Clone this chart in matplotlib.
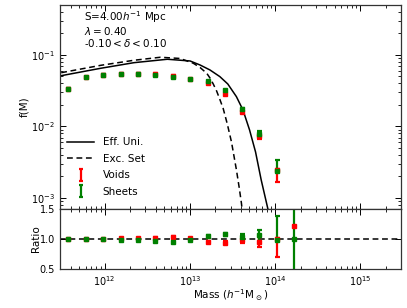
import numpy as np
import matplotlib
matplotlib.use("Agg")
import matplotlib.pyplot as plt
from matplotlib.ticker import LogLocator, NullFormatter, FixedLocator
from matplotlib.lines import Line2D
from matplotlib.path import Path

# ---- data ----
mass = [3.7e11, 6.1e11, 9.7e11, 1.56e12, 2.48e12, 3.95e12, 6.28e12,
        1.01e13, 1.62e13, 2.59e13, 4.13e13, 6.56e13, 1.045e14, 1.66e14]

void_f = [0.0334, 0.0488, 0.053, 0.055, 0.055, 0.0545, 0.051,
          0.046, 0.040, 0.028, 0.0161, 0.0074, 0.00245, 4e-4]
void_lo = [0.0007, 0.0008, 0.0008, 0.0009, 0.0009, 0.0009, 0.0009,
           0.0008, 0.0008, 0.0007, 0.0005, 0.0008, 0.0008, 1e-5]
void_hi = [0.0007, 0.0008, 0.0008, 0.0009, 0.0009, 0.0009, 0.0009,
           0.0008, 0.0008, 0.0007, 0.0005, 0.0002, 0.0001, 1e-5]

sheet_f = [0.0334, 0.0488, 0.053, 0.054, 0.055, 0.053, 0.049,
           0.046, 0.043, 0.032, 0.0174, 0.0079, 0.0024, 4e-4]
sheet_lo = [0.0007, 0.0008, 0.0008, 0.0009, 0.0009, 0.0009, 0.0009,
            0.0008, 0.0008, 0.0007, 0.0005, 0.0002, 0.0001, 1e-5]
sheet_hi = [0.0007, 0.0008, 0.0008, 0.0009, 0.0009, 0.0009, 0.0009,
            0.0008, 0.0008, 0.0008, 0.0006, 0.0008, 0.0010, 1e-5]

void_r = [1.0, 1.0, 1.003, 1.017, 1.01, 1.02, 1.03,
          1.01, 0.955, 0.94, 0.99, 0.95, 1.0, 1.22]
void_r_lo = [0.005, 0.005, 0.005, 0.008, 0.008, 0.01, 0.015,
             0.01, 0.02, 0.03, 0.06, 0.08, 0.305, 0.0]
void_r_hi = [0.005, 0.005, 0.005, 0.008, 0.008, 0.01, 0.015,
             0.01, 0.02, 0.03, 0.06, 0.08, 0.02, 0.0]

sheet_r = [1.0, 1.0, 1.0, 0.983, 0.99, 0.97, 0.955,
           0.99, 1.055, 1.078, 1.03, 1.06, 0.98, 1.0]
sheet_r_lo = [0.005, 0.005, 0.005, 0.008, 0.008, 0.01, 0.015,
              0.01, 0.02, 0.03, 0.06, 0.09, 0.01, 0.9]
sheet_r_hi = [0.005, 0.005, 0.005, 0.008, 0.008, 0.01, 0.015,
              0.01, 0.02, 0.03, 0.06, 0.09, 0.41, 0.9]

# theory curves
eu_mass = [3.1e11, 9.06e11, 2.21e12, 5.45e12, 1.007e13, 1.318e13, 1.722e13,
           2.249e13, 2.787e13, 3.52e13, 4.2e13, 5.02e13, 5.90e13, 6.87e13,
           8.2e13, 9.06e13]
eu_f = [0.0513, 0.0652, 0.078, 0.0871, 0.0824, 0.0724, 0.0617,
        0.0498, 0.0393, 0.0261, 0.0170, 0.00893, 0.00440, 0.00179,
        0.000718, 0.000419]

es_mass = [3.1e11, 9.06e11, 2.21e12, 4.52e12, 7.71e12, 1.10e13, 1.318e13,
           1.578e13, 1.722e13, 1.881e13, 2.06e13, 2.25e13, 2.46e13, 2.75e13,
           3.08e13, 3.52e13, 3.80e13, 4.03e13, 4.17e13]
es_f = [0.0565, 0.0717, 0.0843, 0.0929, 0.0893, 0.0765, 0.0668,
        0.0555, 0.0477, 0.0393, 0.0314, 0.0239, 0.0179, 0.01084,
        0.00607, 0.00247, 0.00138, 0.000843, 0.000578]

labels = ["Eff. Uni.", "Exc. Set", "Voids", "Sheets"]
void_color = "#ff0000"
sheet_color = "#008000"

# ---- figure ----
fig = plt.figure(figsize=(4.07, 3.08), dpi=100)
L, R = 60 / 407, 401 / 407
ax = fig.add_axes([L, 1 - 209 / 308, R - L, (209 - 5) / 308])
axr = fig.add_axes([L, 1 - 269 / 308, R - L, 60 / 308], sharex=ax)

fs = 7.5
dash = (0, (3.8, 2.4))

h1, = ax.plot(eu_mass, eu_f, "-", color="k", lw=1.1)
h2, = ax.plot(es_mass, es_f, color="k", lw=1.1, ls=dash)
ebkw = dict(fmt="s", ms=2.8, capsize=1.8, elinewidth=1.6, capthick=1.6)
ax.errorbar(mass, void_f, yerr=[void_lo, void_hi], color=void_color,
            mec=void_color, **ebkw)
ax.errorbar(mass, sheet_f, yerr=[sheet_lo, sheet_hi], color=sheet_color,
            mec=sheet_color, **ebkw)

# legend proxies: an "I"-shaped errorbar glyph
ibar = Path([(-0.38, 1), (0.38, 1), (0, 1), (0, -1), (-0.38, -1), (0.38, -1)],
            [Path.MOVETO, Path.LINETO, Path.MOVETO, Path.LINETO,
             Path.MOVETO, Path.LINETO])
h3 = Line2D([], [], ls="none", marker=ibar, ms=8.5, mew=1.6,
            color=void_color, mfc="none")
h4 = Line2D([], [], ls="none", marker=ibar, ms=8.5, mew=1.6,
            color=sheet_color, mfc="none")

ax.set_xscale("log")
ax.set_yscale("log")
ax.set_xlim(3e11, 3e15)
ax.set_ylim(7e-4, 0.5)
ax.set_ylabel("f(M)", fontsize=fs, labelpad=1)
plt.setp(ax.get_xticklabels(), visible=False)

ax.text(0.07, 0.94, r"S=4.00$h^{-1}$ Mpc", transform=ax.transAxes,
        fontsize=fs, va="center", ha="left")
ax.text(0.07, 0.874, r"$\lambda=$0.40", transform=ax.transAxes,
        fontsize=fs, va="center", ha="left")
ax.text(0.07, 0.815, r"-0.10$<\delta<$0.10", transform=ax.transAxes,
        fontsize=fs, va="center", ha="left")

leg = ax.legend([h1, h2, h3, h4], labels, loc="lower left", frameon=False,
                fontsize=fs, handlelength=2.6, labelspacing=0.62,
                borderaxespad=0.3, bbox_to_anchor=(0.0, 0.025), numpoints=1)

# ratio panel
axr.axhline(1.0, color="k", ls=dash, lw=1.1, zorder=1)
axr.errorbar(mass, void_r, yerr=[void_r_lo, void_r_hi], color=void_color,
             mec=void_color, **ebkw)
axr.errorbar(mass, sheet_r, yerr=[sheet_r_lo, sheet_r_hi], color=sheet_color,
             mec=sheet_color, **ebkw)
axr.set_xscale("log")
axr.set_xlim(3e11, 3e15)
axr.set_ylim(0.5, 1.5)
axr.yaxis.set_major_locator(FixedLocator([0.5, 1.0, 1.5]))
axr.set_yticklabels(["0.5", "1.0", "1.5"])
axr.set_ylabel("Ratio", fontsize=fs, labelpad=-1)
axr.set_xlabel(r"Mass ($h^{-1}$M$_\odot$)", fontsize=fs, labelpad=0)

for a in (ax, axr):
    a.tick_params(which="both", direction="in", top=True, right=True,
                  labelsize=fs - 0.5)
    a.tick_params(which="major", length=4, width=0.7)
    a.tick_params(which="minor", length=2, width=0.6)
    for s in a.spines.values():
        s.set_linewidth(0.9)
        s.set_color("#333333")
ax.xaxis.set_minor_locator(LogLocator(base=10, subs=np.arange(2, 10), numticks=20))
ax.xaxis.set_minor_formatter(NullFormatter())

fig.savefig("out.png", dpi=100)
